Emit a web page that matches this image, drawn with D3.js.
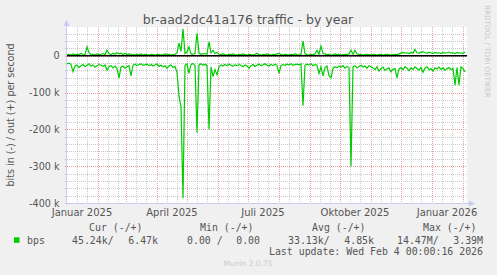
<!DOCTYPE html>
<html lang="de">
<head>
<meta charset="UTF-8">
<title>br-aad2dc41a176 traffic - by year</title>
<script src="https://d3js.org/d3.v7.min.js"></script>
<style>
  body { margin: 0; padding: 0; background: #f0f0f0; }
  svg { display: block; font-family: "DejaVu Sans", sans-serif; }
  .mono { font-family: "DejaVu Sans Mono", monospace; white-space: pre; }
</style>
</head>
<body>
<svg id="chart" width="497" height="275"></svg>
<script>
  // data: one sample every 2 days, starting 1 Jan 2025, values in k bit/s
  const startDate = new Date(2025, 0, 1);
  const stepDays = 2;

  const inK = [
    -22, -20, -24, -43, -28, -25, -32, -27, -24, -30,
    -26, -22, -28, -25, -31, -27, -24, -26, -29, -25,
    -39, -30, -27, -33, -28, -35, -60, -31, -28, -34,
    -30, -27, -55, -26, -23, -27, -24, -22, -26, -25,
    -23, -27, -24, -28, -25, -22, -29, -26, -30, -27,
    -34, -28, -25, -32, -29, -45, -110, -138, -387, -26,
    -22, -48, -24, -21, -27, -209, -25, -22, -26, -23,
    -27, -200, -30, -57, -38, -52, -30, -25, -28, -24,
    -27, -23, -26, -29, -25, -27, -24, -26, -30, -25,
    -28, -34, -27, -24, -29, -26, -23, -27, -25, -22,
    -26, -28, -24, -27, -23, -26, -48, -27, -24, -26,
    -23, -25, -22, -26, -24, -23, -25, -22, -136, -26,
    -23, -25, -22, -27, -24, -26, -48, -30, -55, -32,
    -28, -54, -60, -35, -30, -33, -28, -31, -27, -34,
    -29, -32, -300, -30, -27, -33, -29, -26, -31, -28,
    -34, -27, -30, -33, -38, -30, -42, -35, -31, -40,
    -36, -33, -44, -37, -35, -60, -36, -32, -38, -30,
    -34, -41, -33, -37, -31, -35, -39, -32, -45, -34,
    -30, -38, -35, -42, -33, -36, -31, -37, -33, -40,
    -35, -32, -38, -34, -80, -32, -80, -30, -35, -44
  ];

  const outK = [
    3, 4, 2, 5, 3, 4, 3, 6, 4, 3,
    24, 8, 3, 4, 2, 5, 3, 4, 6, 3,
    15, 6, 3, 7, 4, 8, 5, 7, 4, 6,
    3, 5, 4, 3, 2, 4, 3, 5, 2, 4,
    3, 2, 4, 3, 2, 3, 4, 2, 3, 5,
    3, 4, 2, 3, 4, 8, 34, 12, 73, 6,
    10, 24, 5, 4, 6, 61, 7, 4, 5, 6,
    4, 38, 8, 15, 6, 9, 4, 3, 5, 3,
    2, 4, 3, 5, 3, 2, 4, 3, 5, 3,
    2, 4, 3, 2, 4, 7, 3, 2, 4, 3,
    5, 3, 2, 4, 3, 5, 7, 3, 2, 4,
    3, 2, 4, 3, 5, 3, 2, 4, 40, 5,
    3, 2, 4, 3, 5, 15, 4, 26, 6, 5,
    3, 4, 2, 3, 5, 3, 4, 2, 3, 4,
    3, 5, 15, 4, 15, 5, 3, 4, 2, 3,
    4, 3, 2, 4, 3, 2, 3, 4, 2, 3,
    4, 3, 2, 3, 4, 3, 5, 7, 9, 7,
    8, 6, 9, 7, 17, 8, 7, 9, 11, 8,
    7, 9, 8, 6, 9, 7, 8, 6, 9, 7,
    8, 10, 7, 8, 6, 9, 7, 8, 6, 10
  ];

  const yTicks = [0, -100000, -200000, -300000, -400000];
  const xLabels = [
    { date: new Date(2025, 0, 16), text: "Januar 2025" },
    { date: new Date(2025, 3, 16), text: "April 2025" },
    { date: new Date(2025, 6, 16), text: "Juli 2025" },
    { date: new Date(2025, 9, 16), text: "Oktober 2025" },
    { date: new Date(2026, 0, 16), text: "Januar 2026" }
  ];

  const legendHead = [["Cur (-/+)", 89], ["Min (-/+)", 200], ["Avg (-/+)", 312], ["Max (-/+)", 423]];
  const legendVals = [["45.24k/", 72, "6.47k", 158], ["0.00 /", 187, "0.00", 260],
                      ["33.13k/", 288, "4.85k", 374], ["14.47M/", 397, "3.39M", 483]];

  const plotL = 67, plotR = 467, plotT = 27, plotB = 203;
  const svg = d3.select("#chart");

  const x = d3.scaleTime()
    .domain([startDate, d3.timeDay.offset(startDate, 400)])
    .range([plotL, plotR]);
  const y = d3.scaleLinear().domain([-400000, 78000]).range([plotB, plotT]);

  svg.append("rect").attr("width", 497).attr("height", 275).attr("fill", "#f0f0f0");
  svg.append("rect").attr("x", plotL).attr("y", plotT)
    .attr("width", plotR - plotL).attr("height", plotB - plotT).attr("fill", "#ffffff");

  const grid = svg.append("g");

  // minor vertical grid: around the 11th and 21st of each month
  const minorDays = [];
  d3.timeMonth.range(new Date(2025, 0, 1), new Date(2026, 2, 1)).forEach(m => {
    minorDays.push(d3.timeDay.offset(m, 10), d3.timeDay.offset(m, 20));
  });
  grid.selectAll(".vminor").data(minorDays.filter(d => x(d) < plotR)).enter().append("line")
    .attr("x1", d => Math.round(x(d)) + 0.5).attr("x2", d => Math.round(x(d)) + 0.5)
    .attr("y1", plotT).attr("y2", plotB + 2)
    .attr("stroke", "#c8c8c8").attr("stroke-dasharray", "1,1");

  const months = d3.timeMonth.range(new Date(2025, 1, 1), new Date(2026, 1, 5));
  grid.selectAll(".vmajor").data(months).enter().append("line")
    .attr("x1", d => Math.round(x(d)) + 0.5).attr("x2", d => Math.round(x(d)) + 0.5)
    .attr("y1", plotT).attr("y2", plotB + 2)
    .attr("stroke", "#e8a0a0").attr("stroke-dasharray", "1,1");

  // horizontal grid: 20k minor, 100k major
  const hMinor = d3.range(-380000, 78000, 20000).filter(v => v % 100000 !== 0);
  grid.selectAll(".hminor").data(hMinor).enter().append("line")
    .attr("x1", plotL - 2).attr("x2", plotR)
    .attr("y1", d => Math.round(y(d)) + 0.5).attr("y2", d => Math.round(y(d)) + 0.5)
    .attr("stroke", "#c8c8c8").attr("stroke-dasharray", "1,1");
  grid.selectAll(".hmajor").data(yTicks).enter().append("line")
    .attr("x1", plotL - 2).attr("x2", plotR)
    .attr("y1", d => Math.round(y(d)) + 0.5).attr("y2", d => Math.round(y(d)) + 0.5)
    .attr("stroke", "#e8a0a0").attr("stroke-dasharray", "1,1");

  // series
  const line = d3.line()
    .x((d, i) => x(d3.timeDay.offset(startDate, i * stepDays)))
    .y(d => y(d * 1000));

  svg.append("path").datum(inK).attr("d", line)
    .attr("fill", "none").attr("stroke", "#00cc00").attr("stroke-width", 1.2);
  svg.append("path").datum(outK).attr("d", line)
    .attr("fill", "none").attr("stroke", "#00cc00").attr("stroke-width", 1.2);

  // zero rule
  svg.append("line").attr("x1", plotL).attr("x2", plotR)
    .attr("y1", y(0)).attr("y2", y(0)).attr("stroke", "#000").attr("stroke-width", 1.6);

  // axes with arrows
  const axisCol = "#c8ccf4";
  svg.append("line").attr("x1", plotL - 0.5).attr("x2", plotL - 0.5)
    .attr("y1", plotB + 2).attr("y2", plotT - 3).attr("stroke", axisCol);
  svg.append("path").attr("d", `M${plotL - 3.5},${plotT - 1}L${plotL - 0.5},${plotT - 7}L${plotL + 2.5},${plotT - 1}Z`)
    .attr("fill", axisCol);
  svg.append("line").attr("x1", plotL - 2).attr("x2", plotR + 3)
    .attr("y1", plotB + 0.5).attr("y2", plotB + 0.5).attr("stroke", axisCol);
  svg.append("path").attr("d", `M${plotR + 2},${plotB - 2.5}L${plotR + 8},${plotB + 0.5}L${plotR + 2},${plotB + 3.5}Z`)
    .attr("fill", axisCol);

  const txt = "#555";

  // y tick labels
  svg.selectAll(".ylab").data(yTicks).enter().append("text")
    .attr("x", 59.5).attr("y", d => y(d) + 3.5)
    .attr("text-anchor", "end").attr("font-size", 9.6).attr("fill", txt)
    .text(d => d === 0 ? "0" : `${d / 1000} k`);

  // x labels
  svg.selectAll(".xlab").data(xLabels).enter().append("text")
    .attr("x", d => x(d.date)).attr("y", 215.5)
    .attr("text-anchor", "middle").attr("font-size", 10).attr("fill", txt)
    .text(d => d.text);

  // title
  svg.append("text").attr("x", 248).attr("y", 24)
    .attr("text-anchor", "middle").attr("font-size", 12.5).attr("fill", txt)
    .text("br-aad2dc41a176 traffic - by year");

  // y axis title
  svg.append("text").attr("transform", "translate(14,115) rotate(-90)")
    .attr("text-anchor", "middle").attr("font-size", 9.6).attr("fill", txt)
    .text("bits in (-) / out (+) per second");

  // watermark
  svg.append("text").attr("transform", "translate(485,5) rotate(90)")
    .attr("font-size", 7.2).attr("fill", "#c8c8c8")
    .text("RRDTOOL / TOBI OETIKER");

  // legend
  const legend = svg.append("g").attr("class", "mono").attr("font-size", 9.9).attr("fill", txt);
  legendHead.forEach(([t, px]) => legend.append("text").attr("x", px).attr("y", 230.5).text(t));
  svg.append("rect").attr("x", 14).attr("y", 237.3).attr("width", 5.5).attr("height", 5.5).attr("fill", "#00cc00");
  legend.append("text").attr("x", 27).attr("y", 243.5).text("bps");
  legendVals.forEach(([a, ax, b, bx]) => {
    legend.append("text").attr("x", ax).attr("y", 243.5).text(a);
    legend.append("text").attr("x", bx).attr("y", 243.5).attr("text-anchor", "end").text(b);
  });
  legend.append("text").attr("x", 483).attr("y", 255).attr("text-anchor", "end")
    .text("Last update: Wed Feb  4 00:00:16 2026");

  svg.append("text").attr("x", 248).attr("y", 266).attr("text-anchor", "middle")
    .attr("font-size", 7.5).attr("fill", "#cccccc").text("Munin 2.0.75");
</script>
</body>
</html>
